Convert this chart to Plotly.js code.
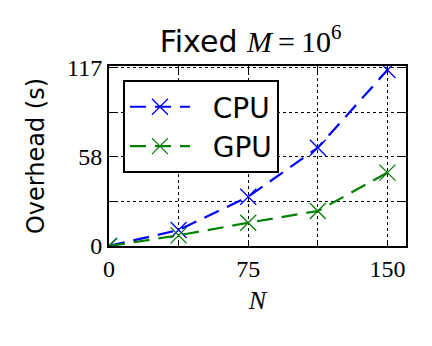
<!DOCTYPE html>
<html>
<head>
<meta charset="utf-8">
<script src="https://cdn.plot.ly/plotly-3.0.1.min.js"></script>
<style>body{margin:0;padding:0;background:#fff}#chart{width:432px;height:346px}</style>
</head>
<body>
<div id="chart"></div>
<script>
const N = [0, 37.5, 75, 112.5, 150];
const cpu = [0, 10.5, 32.4, 64.6, 115.7];
const gpu = [0, 7, 15.3, 23, 48.2];
const xTickVals = [0, 37.5, 75, 112.5, 150];
const xTickText = ['0', '', '75', '', '150'];
const yTickVals = [0, 29.25, 58.5, 87.75, 117];
const yTickText = ['0', '', '58', '', '117'];

const dash = '16px,9px';
const traces = [
  {x: N, y: cpu, name: '\u00a0\u00a0CPU', mode: 'lines+markers', type: 'scatter',
   line: {color: '#0000ff', width: 2.2, dash: dash},
   marker: {symbol: 'x-thin-open', size: 16, color: '#0000ff', line: {color: '#0000ff', width: 1.3}}},
  {x: N, y: gpu, name: '\u00a0\u00a0GPU', mode: 'lines+markers', type: 'scatter',
   line: {color: '#008000', width: 2.2, dash: dash},
   marker: {symbol: 'x-thin-open', size: 16, color: '#008000', line: {color: '#008000', width: 1.3}}}
];

const serif = 'Liberation Serif, DejaVu Serif, serif';
const sans = 'DejaVu Sans, sans-serif';
const axisCommon = {
  showline: true, linecolor: 'black', linewidth: 2, mirror: 'ticks',
  ticks: 'inside', ticklen: 6, tickwidth: 1, tickcolor: 'black',
  showgrid: true, gridcolor: 'black', gridwidth: 1, griddash: 'dot',
  zeroline: false, tickmode: 'array',
  tickfont: {family: serif, size: 24, color: 'black'}
};
const layout = {
  width: 432, height: 346,
  margin: {l: 109, r: 26, t: 66, b: 100},
  paper_bgcolor: 'white', plot_bgcolor: 'white',
  title: {text: '<span style="font-size:30px">Fixed <span style="font-family:Liberation Serif"><i>M</i>\u2009=\u200910<sup>6</sup></span></span>',
          font: {family: sans, size: 30, color: 'black'},
          x: 0.58, xanchor: 'center', y: 0.85, yanchor: 'bottom'},
  xaxis: Object.assign({}, axisCommon, {
    range: [0, 160], tickvals: xTickVals, ticktext: xTickText,
    title: {text: '<i>N</i>', font: {family: serif, size: 26, color: 'black'}, standoff: 10}
  }),
  yaxis: Object.assign({}, axisCommon, {
    range: [0, 118.3], tickvals: yTickVals, ticktext: yTickText,
    title: {text: 'Overhead (s)', font: {family: sans, size: 24, color: 'black'}, standoff: 16}
  }),
  showlegend: true,
  legend: {x: 0.047, y: 0.922, xanchor: 'left', yanchor: 'top',
    bgcolor: 'white', bordercolor: 'black', borderwidth: 2,
    font: {family: sans, size: 28, color: 'black'}, itemwidth: 60, tracegroupgap: 0}
};
Plotly.newPlot('chart', traces, layout, {staticPlot: true, displayModeBar: false});
</script>
</body>
</html>
